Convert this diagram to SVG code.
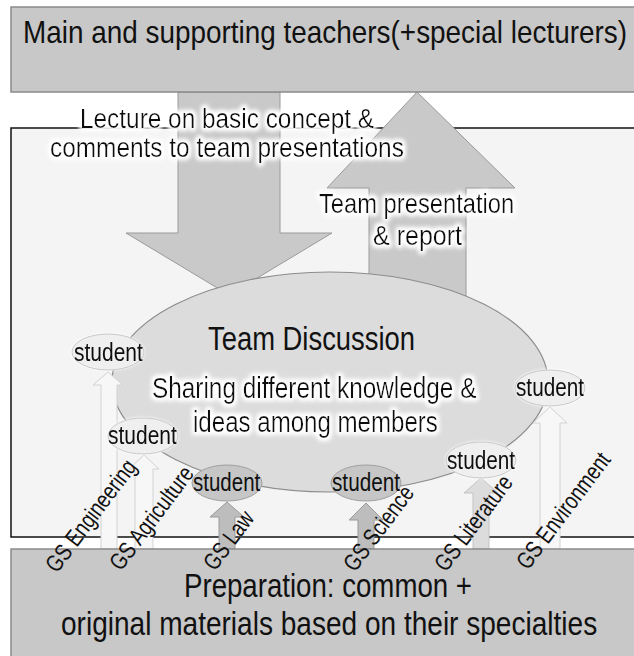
<svg xmlns="http://www.w3.org/2000/svg" width="634" height="656" viewBox="0 0 634 656">
<defs>
<style>
text{font-family:"Liberation Sans",Arial,sans-serif;fill:#111}
.box{fill:#c8c8c8;stroke:#8a8a8a;stroke-width:1.5}
.big{fill:#c9c9c9;stroke:#9a9a9a;stroke-width:1}
.sl{fill:#f7f7f7;stroke:#d2d2d2;stroke-width:1}
.sm{fill:#dcdcdc;stroke:#c4c4c4;stroke-width:1}
.sd{fill:#bdbdbd;stroke:#9a9a9a;stroke-width:1}
.stl{fill:#efefef;stroke:#c8c8c8;stroke-width:1}
.std{fill:#c6c6c6;stroke:#a0a0a0;stroke-width:1}
.st{font-size:25px}
.gs{font-size:24px}
</style>
<filter id="glow" x="-10%" y="-40%" width="120%" height="180%">
<feMorphology in="SourceAlpha" operator="dilate" radius="2" result="d"/>
<feGaussianBlur in="d" stdDeviation="2.5" result="b"/>
<feFlood flood-color="#ffffff"/>
<feComposite in2="b" operator="in" result="g"/>
<feMerge><feMergeNode in="g"/><feMergeNode in="g"/><feMergeNode in="SourceGraphic"/></feMerge>
</filter>
<filter id="soft" x="-20%" y="-30%" width="140%" height="160%">
<feGaussianBlur in="SourceAlpha" stdDeviation="1.5" result="b"/>
<feFlood flood-color="#ffffff"/>
<feComposite in2="b" operator="in" result="g"/>
<feMerge><feMergeNode in="g"/><feMergeNode in="SourceGraphic"/></feMerge>
</filter>
</defs>
<rect x="0" y="0" width="634" height="656" fill="#ffffff"/>
<g id="classroom">
<rect x="11" y="128" width="640" height="409" fill="#f4f4f4" stroke="#111" stroke-width="1.5"/>
</g>
<g id="connectors">
<polygon class="big" points="178,92 280,92 280,233 332,233 229,295 126,233 178,233"/>
<polygon class="big" points="417,92 515,188 466,188 466,310 369,310 369,188 327,188"/>
</g>
<g id="teachers">
<rect class="box" x="11" y="7" width="640" height="85"/>
<text transform="translate(23,43) scale(0.872,1)" font-size="32">Main and supporting teachers(+special lecturers)</text>
</g>
<g id="team-discussion">
<ellipse cx="330" cy="382" rx="218" ry="110" fill="#dcdcdc" stroke="#8c8c8c" stroke-width="1.2"/>
</g>
<g id="student-arrows">
<polygon class="sl" points="108,372 123,385 117,385 117,549 101,549 101,385 93,385"/>
<polygon class="sl" points="144,455 159,469 153,469 153,549 135,549 135,469 129,469"/>
<polygon class="sd" points="227,502 244,517 235,517 235,549 219,549 219,517 210,517"/>
<polygon class="sd" points="366,503 383,520 374,520 374,549 358,549 358,520 349,520"/>
<polygon class="sm" points="481,478 498,493 489,493 489,549 473,549 473,493 464,493"/>
<polygon class="sl" points="550,407 567,423 560,423 560,549 540,549 540,423 533,423"/>
</g>
<g id="student-engineering" filter="url(#soft)">
<ellipse class="stl" cx="108" cy="352" rx="36" ry="18"/>
<text class="st" transform="translate(74,361) scale(0.84,1)">student</text>
</g>
<g id="student-agriculture" filter="url(#soft)">
<ellipse class="stl" cx="143" cy="436" rx="35" ry="18"/>
<text class="st" transform="translate(108,444) scale(0.84,1)">student</text>
</g>
<g id="student-law">
<ellipse class="std" cx="227" cy="483" rx="35" ry="18"/>
<text class="st" transform="translate(193,491) scale(0.82,1)">student</text>
</g>
<g id="student-science">
<ellipse class="std" cx="366" cy="483" rx="35" ry="18"/>
<text class="st" transform="translate(332,491) scale(0.83,1)">student</text>
</g>
<g id="student-literature" filter="url(#soft)">
<ellipse class="stl" cx="481" cy="460" rx="35" ry="18"/>
<text class="st" transform="translate(447,469) scale(0.83,1)">student</text>
</g>
<g id="student-environment" filter="url(#soft)">
<ellipse class="stl" cx="550" cy="388" rx="35" ry="18"/>
<text class="st" transform="translate(516,396) scale(0.83,1)">student</text>
</g>
<g id="preparation">
<rect class="box" x="11" y="549" width="640" height="120"/>
<text transform="translate(184,597) scale(0.813,1)" font-size="34">Preparation: common +</text>
<text transform="translate(61,635) scale(0.825,1)" font-size="34">original materials based on their specialties</text>
</g>
<g id="labels">
<text transform="translate(80,128) scale(0.903,1)" font-size="27" filter="url(#glow)">Lecture on basic concept &amp;</text>
<text transform="translate(50,157) scale(0.904,1)" font-size="27" filter="url(#glow)">comments to team presentations</text>
<text transform="translate(319,213) scale(0.848,1)" font-size="28" filter="url(#glow)">Team presentation</text>
<text transform="translate(373,245) scale(0.894,1)" font-size="28" filter="url(#glow)">&amp; report</text>
<text transform="translate(208,350) scale(0.806,1)" font-size="34">Team Discussion</text>
<text transform="translate(152,398) scale(0.812,1)" font-size="30" filter="url(#glow)">Sharing different knowledge &amp;</text>
<text transform="translate(193,432) scale(0.803,1)" font-size="30" filter="url(#glow)">ideas among members</text>
</g>
<g id="gs-labels">
<text class="gs" transform="translate(57,574) rotate(-53) scale(0.791,1)">GS Engineering</text>
<text class="gs" transform="translate(121,572) rotate(-53) scale(0.795,1)">GS Agriculture</text>
<text class="gs" transform="translate(215,572) rotate(-53) scale(0.785,1)">GS Law</text>
<text class="gs" transform="translate(355,573) rotate(-53) scale(0.789,1)">GS Science</text>
<text class="gs" transform="translate(446,573) rotate(-53) scale(0.792,1)">GS Literature</text>
<text class="gs" transform="translate(528,571) rotate(-53) scale(0.79,1)">GS Environment</text>
</g>
</svg>
